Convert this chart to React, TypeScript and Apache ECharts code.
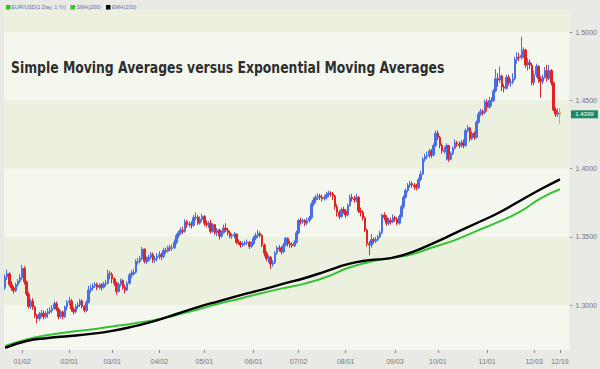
import { useEffect, useRef } from "react";
import * as echarts from "echarts";

// ---- categories ----
const firstDay = "2006-12-19";
const holidays = ["2006-12-25", "2007-01-01"];
const tickDates = [
  "2007-01-02", "2007-02-01", "2007-03-01", "2007-04-02", "2007-05-01", "2007-06-01",
  "2007-07-02", "2007-08-01", "2007-09-03", "2007-10-01", "2007-11-01", "2007-12-03", "2007-12-19",
];
const yTicks = [1.3, 1.35, 1.4, 1.45, 1.5];
const lastPrice = 1.4399;
const titleText = "Simple Moving Averages versus Exponential Moving Averages";
const legendNames = ["EUR/USD(1 Day, 1 Yr)", "SMA(200)", "EMA(200)"];

// ---- daily candles [open, close, low, high] ----
const dec06 = [
  [1.3130, 1.3205, 1.3110, 1.3225], [1.3205, 1.3230, 1.3185, 1.3260], [1.3230, 1.3150, 1.3135, 1.3240],
  [1.3150, 1.3125, 1.3105, 1.3175], [1.3125, 1.3105, 1.3085, 1.3140], [1.3105, 1.3150, 1.3095, 1.3165],
  [1.3150, 1.3175, 1.3135, 1.3190], [1.3175, 1.3200, 1.3160, 1.3225],
];
const jan07 = [
  [1.3200, 1.3270, 1.3185, 1.3295], [1.3270, 1.3170, 1.3150, 1.3285], [1.3170, 1.3080, 1.3065, 1.3180],
  [1.3080, 1.2990, 1.2975, 1.3095], [1.2990, 1.3030, 1.2970, 1.3045], [1.3030, 1.2985, 1.2965, 1.3050],
  [1.2985, 1.2925, 1.2905, 1.2995], [1.2925, 1.2900, 1.2865, 1.2935], [1.2900, 1.2935, 1.2885, 1.2950],
  [1.2935, 1.2940, 1.2910, 1.2965], [1.2940, 1.2915, 1.2895, 1.2960], [1.2915, 1.2940, 1.2900, 1.2955],
  [1.2940, 1.2950, 1.2905, 1.2975], [1.2950, 1.2960, 1.2930, 1.2985], [1.2960, 1.2975, 1.2940, 1.3000],
  [1.2975, 1.3010, 1.2965, 1.3030], [1.3010, 1.2970, 1.2955, 1.3025], [1.2970, 1.2915, 1.2895, 1.2980],
  [1.2915, 1.2950, 1.2900, 1.2960], [1.2950, 1.2915, 1.2895, 1.2960], [1.2915, 1.2985, 1.2905, 1.2995],
  [1.2985, 1.3020, 1.2960, 1.3035],
];
const feb07 = [
  [1.3020, 1.3030, 1.2995, 1.3060], [1.3030, 1.2970, 1.2950, 1.3045], [1.2970, 1.2950, 1.2930, 1.2985],
  [1.2950, 1.2990, 1.2940, 1.3005], [1.2990, 1.3000, 1.2970, 1.3020], [1.3000, 1.3030, 1.2985, 1.3045],
  [1.3030, 1.2990, 1.2975, 1.3040], [1.2990, 1.2960, 1.2945, 1.3000], [1.2960, 1.3020, 1.2950, 1.3035],
  [1.3020, 1.3110, 1.3010, 1.3140], [1.3110, 1.3125, 1.3090, 1.3150], [1.3125, 1.3140, 1.3105, 1.3160],
  [1.3140, 1.3150, 1.3125, 1.3170], [1.3150, 1.3130, 1.3110, 1.3165], [1.3130, 1.3145, 1.3115, 1.3160],
  [1.3145, 1.3130, 1.3105, 1.3160], [1.3130, 1.3155, 1.3120, 1.3170], [1.3155, 1.3160, 1.3135, 1.3185],
  [1.3160, 1.3230, 1.3150, 1.3260], [1.3230, 1.3225, 1.3190, 1.3250],
];
const mar07 = [
  [1.3225, 1.3190, 1.3160, 1.3240], [1.3190, 1.3160, 1.3140, 1.3205], [1.3160, 1.3100, 1.3075, 1.3170],
  [1.3100, 1.3150, 1.3090, 1.3165], [1.3150, 1.3180, 1.3135, 1.3195], [1.3180, 1.3130, 1.3115, 1.3190],
  [1.3130, 1.3110, 1.3085, 1.3150], [1.3110, 1.3160, 1.3100, 1.3175], [1.3160, 1.3220, 1.3150, 1.3235],
  [1.3220, 1.3230, 1.3195, 1.3255], [1.3230, 1.3240, 1.3215, 1.3265], [1.3240, 1.3320, 1.3230, 1.3335],
  [1.3315, 1.3320, 1.3295, 1.3345], [1.3320, 1.3340, 1.3305, 1.3360], [1.3340, 1.3410, 1.3330, 1.3425],
  [1.3410, 1.3320, 1.3305, 1.3415], [1.3320, 1.3330, 1.3300, 1.3355], [1.3330, 1.3350, 1.3315, 1.3370],
  [1.3350, 1.3370, 1.3335, 1.3390], [1.3370, 1.3330, 1.3310, 1.3385], [1.3330, 1.3340, 1.3310, 1.3360],
  [1.3340, 1.3355, 1.3320, 1.3380],
];
const apr07 = [
  [1.3355, 1.3370, 1.3335, 1.3395], [1.3370, 1.3355, 1.3330, 1.3385], [1.3355, 1.3400, 1.3345, 1.3420],
  [1.3400, 1.3395, 1.3375, 1.3420], [1.3395, 1.3420, 1.3385, 1.3435], [1.3420, 1.3415, 1.3395, 1.3440],
  [1.3415, 1.3420, 1.3395, 1.3445], [1.3420, 1.3460, 1.3410, 1.3480], [1.3460, 1.3510, 1.3445, 1.3525],
  [1.3510, 1.3530, 1.3490, 1.3545], [1.3530, 1.3550, 1.3515, 1.3570], [1.3550, 1.3540, 1.3520, 1.3575],
  [1.3540, 1.3610, 1.3530, 1.3630], [1.3610, 1.3590, 1.3565, 1.3625], [1.3590, 1.3595, 1.3570, 1.3615],
  [1.3595, 1.3585, 1.3560, 1.3615], [1.3585, 1.3640, 1.3575, 1.3660], [1.3640, 1.3645, 1.3620, 1.3680],
  [1.3645, 1.3600, 1.3585, 1.3660], [1.3600, 1.3630, 1.3590, 1.3650], [1.3630, 1.3650, 1.3610, 1.3670],
];
const may07 = [
  [1.3650, 1.3600, 1.3580, 1.3660], [1.3600, 1.3590, 1.3570, 1.3620], [1.3590, 1.3600, 1.3565, 1.3615],
  [1.3600, 1.3540, 1.3525, 1.3625], [1.3540, 1.3590, 1.3530, 1.3600], [1.3590, 1.3530, 1.3515, 1.3595],
  [1.3530, 1.3550, 1.3505, 1.3565], [1.3550, 1.3505, 1.3480, 1.3560], [1.3505, 1.3530, 1.3495, 1.3545],
  [1.3530, 1.3565, 1.3525, 1.3590], [1.3565, 1.3550, 1.3535, 1.3600], [1.3550, 1.3530, 1.3510, 1.3565],
  [1.3530, 1.3505, 1.3490, 1.3545], [1.3505, 1.3510, 1.3485, 1.3525], [1.3510, 1.3520, 1.3490, 1.3535],
  [1.3520, 1.3460, 1.3445, 1.3525], [1.3460, 1.3455, 1.3440, 1.3480], [1.3455, 1.3440, 1.3420, 1.3470],
  [1.3440, 1.3450, 1.3425, 1.3465], [1.3450, 1.3455, 1.3435, 1.3470], [1.3455, 1.3460, 1.3440, 1.3480],
  [1.3460, 1.3430, 1.3410, 1.3470], [1.3430, 1.3450, 1.3420, 1.3465],
];
const jun07 = [
  [1.3450, 1.3490, 1.3440, 1.3505], [1.3490, 1.3510, 1.3475, 1.3530], [1.3510, 1.3525, 1.3490, 1.3550],
  [1.3525, 1.3510, 1.3495, 1.3540], [1.3510, 1.3440, 1.3425, 1.3520], [1.3440, 1.3380, 1.3355, 1.3450],
  [1.3380, 1.3340, 1.3320, 1.3395], [1.3340, 1.3350, 1.3310, 1.3365], [1.3350, 1.3300, 1.3265, 1.3360],
  [1.3300, 1.3310, 1.3280, 1.3330], [1.3310, 1.3380, 1.3300, 1.3395], [1.3380, 1.3420, 1.3370, 1.3435],
  [1.3420, 1.3410, 1.3390, 1.3440], [1.3410, 1.3390, 1.3370, 1.3430], [1.3390, 1.3440, 1.3380, 1.3455],
  [1.3440, 1.3490, 1.3430, 1.3500], [1.3490, 1.3450, 1.3430, 1.3495], [1.3450, 1.3440, 1.3420, 1.3470],
  [1.3445, 1.3435, 1.3420, 1.3460], [1.3435, 1.3460, 1.3425, 1.3475], [1.3460, 1.3530, 1.3450, 1.3545],
];
const jul07 = [
  [1.3530, 1.3620, 1.3520, 1.3630], [1.3620, 1.3610, 1.3590, 1.3640], [1.3610, 1.3620, 1.3595, 1.3635],
  [1.3620, 1.3600, 1.3580, 1.3630], [1.3600, 1.3620, 1.3585, 1.3640], [1.3620, 1.3640, 1.3605, 1.3655],
  [1.3640, 1.3740, 1.3630, 1.3755], [1.3740, 1.3770, 1.3725, 1.3790], [1.3770, 1.3790, 1.3750, 1.3810],
  [1.3790, 1.3800, 1.3770, 1.3820], [1.3800, 1.3790, 1.3770, 1.3815], [1.3790, 1.3780, 1.3760, 1.3810],
  [1.3780, 1.3790, 1.3765, 1.3805], [1.3790, 1.3810, 1.3775, 1.3830], [1.3810, 1.3820, 1.3790, 1.3840],
  [1.3820, 1.3815, 1.3795, 1.3835], [1.3815, 1.3800, 1.3770, 1.3830], [1.3800, 1.3720, 1.3700, 1.3810],
  [1.3720, 1.3680, 1.3650, 1.3740], [1.3680, 1.3650, 1.3630, 1.3695], [1.3650, 1.3700, 1.3640, 1.3715],
  [1.3700, 1.3690, 1.3670, 1.3720],
];
const aug07 = [
  [1.3690, 1.3660, 1.3640, 1.3705], [1.3660, 1.3730, 1.3650, 1.3745], [1.3730, 1.3790, 1.3720, 1.3810],
  [1.3790, 1.3780, 1.3760, 1.3815], [1.3780, 1.3770, 1.3750, 1.3800], [1.3770, 1.3790, 1.3755, 1.3815],
  [1.3790, 1.3690, 1.3675, 1.3800], [1.3690, 1.3680, 1.3650, 1.3715], [1.3680, 1.3640, 1.3620, 1.3695],
  [1.3640, 1.3550, 1.3535, 1.3650], [1.3550, 1.3450, 1.3430, 1.3560], [1.3450, 1.3440, 1.3365, 1.3470],
  [1.3440, 1.3480, 1.3420, 1.3520], [1.3480, 1.3470, 1.3450, 1.3495], [1.3470, 1.3480, 1.3455, 1.3500],
  [1.3480, 1.3500, 1.3465, 1.3515], [1.3500, 1.3530, 1.3490, 1.3545], [1.3530, 1.3660, 1.3520, 1.3670],
  [1.3660, 1.3640, 1.3620, 1.3680], [1.3640, 1.3600, 1.3580, 1.3660], [1.3600, 1.3620, 1.3585, 1.3640],
  [1.3620, 1.3610, 1.3590, 1.3640], [1.3610, 1.3640, 1.3600, 1.3665],
];
const sep07 = [
  [1.3640, 1.3630, 1.3610, 1.3655], [1.3630, 1.3600, 1.3585, 1.3645], [1.3600, 1.3650, 1.3590, 1.3665],
  [1.3650, 1.3720, 1.3640, 1.3735], [1.3720, 1.3790, 1.3705, 1.3805], [1.3790, 1.3840, 1.3780, 1.3855],
  [1.3840, 1.3880, 1.3825, 1.3895], [1.3880, 1.3890, 1.3860, 1.3910], [1.3890, 1.3880, 1.3860, 1.3905],
  [1.3880, 1.3870, 1.3845, 1.3895], [1.3870, 1.3860, 1.3840, 1.3890], [1.3860, 1.3920, 1.3850, 1.3935],
  [1.3920, 1.3960, 1.3910, 1.3985], [1.3960, 1.4070, 1.3955, 1.4085], [1.4070, 1.4090, 1.4050, 1.4110],
  [1.4090, 1.4095, 1.4070, 1.4125], [1.4095, 1.4130, 1.4080, 1.4145], [1.4130, 1.4100, 1.4080, 1.4145],
  [1.4100, 1.4170, 1.4090, 1.4185], [1.4170, 1.4260, 1.4160, 1.4280],
];
const oct07 = [
  [1.4260, 1.4230, 1.4210, 1.4280], [1.4230, 1.4170, 1.4150, 1.4240], [1.4170, 1.4130, 1.4110, 1.4185],
  [1.4125, 1.4135, 1.4110, 1.4160], [1.4135, 1.4170, 1.4060, 1.4185], [1.4170, 1.4070, 1.4050, 1.4175],
  [1.4070, 1.4110, 1.4060, 1.4125], [1.4110, 1.4150, 1.4100, 1.4165], [1.4150, 1.4190, 1.4140, 1.4215],
  [1.4190, 1.4180, 1.4160, 1.4205], [1.4180, 1.4170, 1.4150, 1.4200], [1.4170, 1.4190, 1.4155, 1.4210],
  [1.4190, 1.4170, 1.4150, 1.4215], [1.4170, 1.4280, 1.4160, 1.4295], [1.4280, 1.4300, 1.4265, 1.4320],
  [1.4300, 1.4220, 1.4200, 1.4305], [1.4220, 1.4260, 1.4210, 1.4275], [1.4260, 1.4230, 1.4210, 1.4275],
  [1.4230, 1.4340, 1.4220, 1.4355], [1.4340, 1.4400, 1.4330, 1.4415], [1.4400, 1.4420, 1.4385, 1.4440],
  [1.4420, 1.4410, 1.4390, 1.4435], [1.4410, 1.4490, 1.4400, 1.4505],
];
const nov07 = [
  [1.4490, 1.4450, 1.4420, 1.4510], [1.4450, 1.4500, 1.4440, 1.4525], [1.4495, 1.4500, 1.4460, 1.4525],
  [1.4500, 1.4570, 1.4490, 1.4585], [1.4570, 1.4660, 1.4560, 1.4730], [1.4660, 1.4650, 1.4600, 1.4700],
  [1.4650, 1.4680, 1.4630, 1.4750], [1.4680, 1.4600, 1.4570, 1.4690], [1.4600, 1.4590, 1.4560, 1.4620],
  [1.4590, 1.4670, 1.4580, 1.4690], [1.4670, 1.4630, 1.4610, 1.4690], [1.4630, 1.4635, 1.4600, 1.4660],
  [1.4635, 1.4660, 1.4620, 1.4700], [1.4660, 1.4800, 1.4650, 1.4820], [1.4800, 1.4820, 1.4770, 1.4855],
  [1.4820, 1.4815, 1.4790, 1.4850], [1.4815, 1.4830, 1.4800, 1.4967], [1.4830, 1.4870, 1.4810, 1.4890],
  [1.4870, 1.4760, 1.4740, 1.4880], [1.4760, 1.4780, 1.4720, 1.4810], [1.4780, 1.4760, 1.4730, 1.4800],
  [1.4760, 1.4630, 1.4610, 1.4775],
];
const dec07 = [
  [1.4630, 1.4690, 1.4610, 1.4720], [1.4690, 1.4750, 1.4670, 1.4770], [1.4750, 1.4660, 1.4630, 1.4760],
  [1.4660, 1.4640, 1.4520, 1.4680], [1.4640, 1.4670, 1.4620, 1.4690], [1.4670, 1.4720, 1.4660, 1.4745],
  [1.4720, 1.4660, 1.4640, 1.4760], [1.4660, 1.4720, 1.4650, 1.4760], [1.4720, 1.4630, 1.4610, 1.4730],
  [1.4630, 1.4430, 1.4420, 1.4640], [1.4430, 1.4400, 1.4380, 1.4450], [1.4400, 1.4410, 1.4380, 1.4440],
  [1.4410, 1.4399, 1.4330, 1.4445],
];

// ---- moving averages, read at every 10th trading day [dayIndex, value] ----
const sma200 = [
  [0, 1.2700], [10, 1.2747], [20, 1.2780], [30, 1.2802], [40, 1.2821], [50, 1.2843], [60, 1.2865],
  [70, 1.2890], [80, 1.2927], [90, 1.2967], [100, 1.3011], [110, 1.3048], [120, 1.3088], [130, 1.3124],
  [140, 1.3157], [150, 1.3205], [160, 1.3271], [170, 1.3315], [180, 1.3344], [190, 1.3373], [200, 1.3425],
  [210, 1.3476], [220, 1.3542], [230, 1.3608], [240, 1.3681], [250, 1.3783], [259, 1.3849],
];
const ema200 = [
  [0, 1.2685], [10, 1.2736], [20, 1.2758], [30, 1.2773], [40, 1.2788], [50, 1.2810], [60, 1.2843],
  [70, 1.2883], [80, 1.2934], [90, 1.2985], [100, 1.3029], [110, 1.3073], [120, 1.3113], [130, 1.3157],
  [140, 1.3198], [150, 1.3249], [160, 1.3300], [170, 1.3329], [180, 1.3344], [190, 1.3388], [200, 1.3454],
  [210, 1.3527], [220, 1.3600], [230, 1.3673], [240, 1.3761], [250, 1.3849], [259, 1.3922],
];

const candles = [
  ...dec06, ...jan07, ...feb07, ...mar07, ...apr07, ...may07, ...jun07,
  ...jul07, ...aug07, ...sep07, ...oct07, ...nov07, ...dec07,
];

const PAD_SLOTS = 4;
const GREEN = "#36c236";
const BLACK = "#000000";

function tradingDays(start: string, count: number, skip: string[]): string[] {
  const out: string[] = [];
  const d = new Date(start + "T00:00:00Z");
  while (out.length < count) {
    const dow = d.getUTCDay();
    const iso = d.toISOString().slice(0, 10);
    if (dow !== 0 && dow !== 6 && !skip.includes(iso)) out.push(iso);
    d.setUTCDate(d.getUTCDate() + 1);
  }
  return out;
}

export default function App() {
  const ref = useRef<HTMLDivElement>(null);
  useEffect(() => {
    if (!ref.current) return;
    const chart = echarts.init(ref.current, null, { renderer: "svg" });
    const days = tradingDays(firstDay, candles.length, holidays);
    const cats = [...days];
    for (let i = 0; i < PAD_SLOTS; i++) cats.push("pad" + i);
    const lastIdx = candles.length - 1;
    const orange = "#f0a020";
    const data = candles.map((c, i) =>
      i === lastIdx
        ? { value: c, itemStyle: { color: orange, color0: orange, borderColor: orange, borderColor0: orange } }
        : c
    );
    const showIdx = (idx: number) => tickDates.includes(cats[idx]);
    const yMin = 1.267;
    const yMax = 1.5164;
    const bandGreen = "#ecf1df";
    const bandLight = "#f3f7ee";
    const legendFont = { fontSize: 5.4, fill: "#5a74b0", fontFamily: "Liberation Sans", verticalAlign: "middle" };

    chart.setOption({
      animation: false,
      backgroundColor: "#e9e9e5",
      graphic: [
        {
          type: "text",
          x: 11,
          y: 59,
          scaleX: 0.775,
          style: {
            text: titleText,
            fontFamily: "DejaVu Sans",
            fontWeight: "bold",
            fontSize: 16,
            fill: "#2e2e2e",
            verticalAlign: "top",
          },
          z: 100,
        },
        { type: "rect", shape: { x: 6, y: 5, width: 4.5, height: 4.5 }, style: { fill: "#2fbf2f" }, z: 100 },
        { type: "text", x: 11.5, y: 7.4, style: { text: legendNames[0], ...legendFont }, z: 100 },
        { type: "rect", shape: { x: 70.5, y: 5, width: 4.5, height: 4.5 }, style: { fill: GREEN }, z: 100 },
        { type: "text", x: 76.5, y: 7.4, style: { text: legendNames[1], ...legendFont }, z: 100 },
        { type: "rect", shape: { x: 106, y: 5, width: 4.5, height: 4.5 }, style: { fill: BLACK }, z: 100 },
        { type: "text", x: 112, y: 7.4, style: { text: legendNames[2], ...legendFont }, z: 100 },
      ],
      grid: { left: 4, right: 26.5, top: 10, bottom: 19, show: true, backgroundColor: bandLight, borderWidth: 0 },
      xAxis: {
        type: "category",
        data: cats,
        boundaryGap: true,
        axisLine: { show: false },
        axisTick: {
          show: true,
          alignWithLabel: true,
          interval: (idx: number) => showIdx(idx),
          length: 3,
          lineStyle: { color: "#888" },
        },
        axisLabel: {
          interval: (idx: number) => showIdx(idx),
          formatter: (v: string) => v.slice(5, 7) + "/" + v.slice(8, 10),
          fontSize: 7,
          color: "#777",
          fontFamily: "Liberation Sans",
          margin: 8,
        },
        splitLine: { show: false },
      },
      yAxis: {
        type: "value",
        position: "right",
        min: yMin,
        max: yMax,
        scale: true,
        axisLine: { show: false },
        splitLine: { show: false },
        axisTick: { show: true, customValues: yTicks, length: 3, lineStyle: { color: "#999" } },
        axisLabel: {
          customValues: yTicks,
          formatter: (v: number) => v.toFixed(4),
          fontSize: 7,
          color: "#777",
          fontFamily: "Liberation Sans",
          margin: 6,
        },
      },
      series: [
        {
          type: "candlestick",
          name: legendNames[0],
          data,
          barWidth: 2,
          itemStyle: {
            color: "#4a6ee6",
            color0: "#e02424",
            borderColor: "#4a6ee6",
            borderColor0: "#e02424",
            borderWidth: 1,
          },
          markArea: {
            silent: true,
            itemStyle: { color: bandGreen },
            data: [
              [{ yAxis: 1.5 }, { yAxis: yMax }],
              [{ yAxis: 1.4 }, { yAxis: 1.45 }],
              [{ yAxis: 1.3 }, { yAxis: 1.35 }],
            ],
          },
          markPoint: {
            silent: true,
            symbol: "rect",
            symbolSize: [27, 8],
            symbolOffset: [24.5, 0],
            itemStyle: { color: "#1f8a62" },
            label: {
              show: true,
              formatter: lastPrice.toFixed(4),
              color: "#fff",
              fontSize: 6,
              fontFamily: "Liberation Sans",
            },
            data: [{ coord: [lastIdx, lastPrice], value: lastPrice }],
          },
        },
        {
          type: "line",
          name: legendNames[1],
          data: sma200,
          smooth: true,
          showSymbol: false,
          symbol: "none",
          color: GREEN,
          lineStyle: { color: GREEN, width: 2 },
        },
        {
          type: "line",
          name: legendNames[2],
          data: ema200,
          smooth: true,
          showSymbol: false,
          symbol: "none",
          color: BLACK,
          lineStyle: { color: BLACK, width: 2.4 },
        },
      ],
    });
    return () => chart.dispose();
  }, []);
  return (
    <div
      ref={ref}
      style={{ position: "fixed", left: 0, top: 0, width: 600, height: 369 }}
    />
  );
}
